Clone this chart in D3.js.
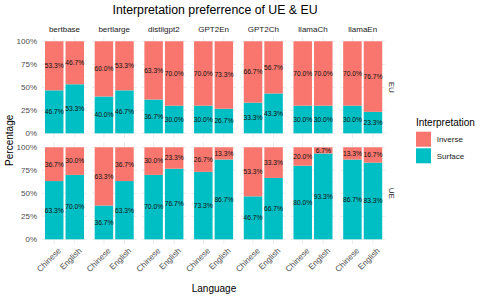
<!DOCTYPE html>
<html>
<head>
<meta charset="utf-8">
<script src="https://cdn.jsdelivr.net/npm/d3@7"></script>
<style>
  body { margin: 0; background: #fff; }
  svg { display: block; font-family: 'Liberation Sans', Arial, sans-serif; }
</style>
</head>
<body>
<svg width="486" height="300"></svg>
<script>
const models = ['bertbase', 'bertlarge', 'distilgpt2', 'GPT2En', 'GPT2Ch', 'llamaCh', 'llamaEn'];
const languages = ['Chinese', 'English'];
const orders = ['EU', 'UE'];
const interpretations = ['Inverse', 'Surface'];

// two values per model: Chinese, English
const surfaceEU = [46.7, 53.3, 40.0, 46.7, 36.7, 30.0, 30.0, 26.7, 33.3, 43.3, 30.0, 30.0, 30.0, 23.3];
const inverseEU = [53.3, 46.7, 60.0, 53.3, 63.3, 70.0, 70.0, 73.3, 66.7, 56.7, 70.0, 70.0, 70.0, 76.7];
const surfaceUE = [63.3, 70.0, 36.7, 63.3, 70.0, 76.7, 73.3, 86.7, 46.7, 66.7, 80.0, 93.3, 86.7, 83.3];
const inverseUE = [36.7, 30.0, 63.3, 36.7, 30.0, 23.3, 26.7, 13.3, 53.3, 33.3, 20.0, 6.7, 13.3, 16.7];

const yTicks = [0, 25, 50, 75, 100];
const yMinor = [12.5, 37.5, 62.5, 87.5];

const svg = d3.select('svg');

const color = d3.scaleOrdinal()
  .domain(interpretations)
  .range(['#F8766D', '#00BFC4']);

const panelW = 45.2, panelGap = 4.5, left = 41.9;
const panelTops = { EU: 36.7, UE: 142.7 }, panelH = 101.2;

const fx = d3.scaleBand()
  .domain(models)
  .range([left, left + 7 * panelW + 6 * panelGap])
  .paddingInner(panelGap / (panelW + panelGap))
  .paddingOuter(0);

const x = d3.scaleBand()
  .domain(languages)
  .range([0, panelW])
  .paddingInner(0.1)
  .paddingOuter(0.15);

const yFor = order => d3.scaleLinear()
  .domain([-5, 105])
  .range([panelTops[order] + panelH, panelTops[order]]);

const rows = [];
orders.forEach(order => {
  const surf = order === 'EU' ? surfaceEU : surfaceUE;
  const inv = order === 'EU' ? inverseEU : inverseUE;
  models.forEach((m, i) => {
    languages.forEach((lang, j) => {
      rows.push({ order, model: m, language: lang, Surface: surf[i * 2 + j], Inverse: inv[i * 2 + j] });
    });
  });
});

const stack = d3.stack().keys(['Surface', 'Inverse']);

// title
svg.append('text')
  .attr('x', 215)
  .attr('y', 14)
  .attr('text-anchor', 'middle')
  .style('font-size', '12.3px')
  .attr('fill', '#000')
  .text('Interpretation preferrence of UE & EU');

orders.forEach(order => {
  const y = yFor(order);
  const data = rows.filter(d => d.order === order);
  const series = stack(data);

  models.forEach(m => {
    const g = svg.append('g')
      .attr('transform', `translate(${fx(m)},0)`);

    g.selectAll('.minor')
      .data(yMinor)
      .enter()
      .append('line')
      .attr('x1', 0)
      .attr('x2', panelW)
      .attr('y1', d => y(d))
      .attr('y2', d => y(d))
      .attr('stroke', '#F1F1F1')
      .attr('stroke-width', 0.5);

    g.selectAll('.major')
      .data(yTicks)
      .enter()
      .append('line')
      .attr('x1', 0)
      .attr('x2', panelW)
      .attr('y1', d => y(d))
      .attr('y2', d => y(d))
      .attr('stroke', '#EBEBEB')
      .attr('stroke-width', 1);

    g.selectAll('.vgrid')
      .data(languages)
      .enter()
      .append('line')
      .attr('x1', d => x(d) + x.bandwidth() / 2)
      .attr('x2', d => x(d) + x.bandwidth() / 2)
      .attr('y1', panelTops[order])
      .attr('y2', panelTops[order] + panelH)
      .attr('stroke', '#EBEBEB')
      .attr('stroke-width', 1);

    series.forEach(s => {
      const pts = s.filter(p => p.data.model === m);
      g.selectAll(null)
        .data(pts)
        .enter()
        .append('rect')
        .attr('x', d => x(d.data.language))
        .attr('width', x.bandwidth())
        .attr('y', d => y(d[1]))
        .attr('height', d => y(d[0]) - y(d[1]))
        .attr('fill', color(s.key));
    });

    series.forEach(s => {
      const pts = s.filter(p => p.data.model === m);
      g.selectAll(null)
        .data(pts)
        .enter()
        .append('text')
        .attr('x', d => x(d.data.language) + x.bandwidth() / 2)
        .attr('y', d => y((d[0] + d[1]) / 2))
        .attr('dy', '0.35em')
        .attr('text-anchor', 'middle')
        .style('font-size', '6.7px')
        .attr('fill', '#111')
        .text(d => d.data[s.key].toFixed(1) + '%');
    });

    if (order === 'EU') {
      g.append('text')
        .attr('x', panelW / 2)
        .attr('y', 29.3)
        .attr('dy', '0.35em')
        .attr('text-anchor', 'middle')
        .style('font-size', '8px')
        .attr('fill', '#1A1A1A')
        .text(m);
    }

    if (order === 'UE') {
      g.selectAll('.xlab')
        .data(languages)
        .enter()
        .append('text')
        .attr('transform', d => `translate(${x(d) + x.bandwidth() / 2 + 3},${panelTops.UE + panelH + 3}) rotate(-45)`)
        .attr('text-anchor', 'end')
        .attr('dy', '0.75em')
        .style('font-size', '8.2px')
        .attr('fill', '#4D4D4D')
        .text(d => d);
    }
  });

  // y axis labels
  svg.append('g')
    .selectAll('text')
    .data(yTicks)
    .enter()
    .append('text')
    .attr('x', 37)
    .attr('y', d => y(d))
    .attr('dy', '0.35em')
    .attr('text-anchor', 'end')
    .style('font-size', '8px')
    .attr('fill', '#4D4D4D')
    .text(d => d + '%');

  // row strip
  svg.append('text')
    .attr('transform', `translate(392,${panelTops[order] + panelH / 2}) rotate(90)`)
    .attr('dy', '0.35em')
    .attr('text-anchor', 'middle')
    .style('font-size', '8px')
    .attr('fill', '#1A1A1A')
    .text(order);
});

// axis titles
svg.append('text')
  .attr('x', 214)
  .attr('y', 288)
  .attr('dy', '0.35em')
  .attr('text-anchor', 'middle')
  .style('font-size', '10px')
  .text('Language');

svg.append('text')
  .attr('transform', `translate(9,${(panelTops.EU + panelTops.UE + panelH) / 2}) rotate(-90)`)
  .attr('dy', '0.35em')
  .attr('text-anchor', 'middle')
  .style('font-size', '10px')
  .text('Percentage');

// legend
const legend = svg.append('g')
  .attr('id', 'legend');

legend.append('text')
  .attr('x', 416)
  .attr('y', 122.7)
  .attr('dy', '0.35em')
  .style('font-size', '10px')
  .text('Interpretation');

legend.selectAll('rect')
  .data(interpretations)
  .enter()
  .append('rect')
  .attr('x', 416)
  .attr('y', (d, i) => 131.7 + i * 16.6)
  .attr('width', 15)
  .attr('height', 15)
  .attr('fill', d => color(d));

legend.selectAll('.ltext')
  .data(interpretations)
  .enter()
  .append('text')
  .attr('x', 436.7)
  .attr('y', (d, i) => 139.5 + i * 16.3)
  .attr('dy', '0.35em')
  .style('font-size', '8px')
  .attr('fill', '#1A1A1A')
  .text(d => d);
</script>
</body>
</html>
